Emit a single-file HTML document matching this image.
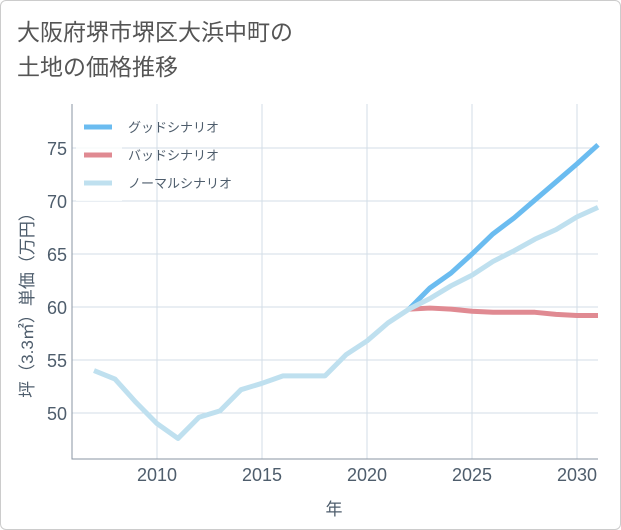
<!DOCTYPE html>
<html><head><meta charset="utf-8"><style>
body{margin:0;background:#fff;}
.wrap{position:relative;width:619px;height:528px;border:1px solid #ccc;border-radius:6px;overflow:hidden;background:#fff;font-family:"Liberation Sans","Noto Sans CJK JP",sans-serif;}
.title{position:absolute;left:16px;top:14px;font-size:23px;line-height:35px;color:#555;}
svg{position:absolute;left:0;top:0;}
</style></head><body>
<div class="wrap">
<div class="title">大阪府堺市堺区大浜中町の<br>土地の価格推移</div>
<svg width="621" height="530" id="chart" font-family="Liberation Sans, Noto Sans CJK JP, sans-serif"></svg>
</div>
<script>
const years=[2007,2008,2009,2010,2011,2012,2013,2014,2015,2016,2017,2018,2019,2020,2021,2022,2023,2024,2025,2026,2027,2028,2029,2030,2031];
const normal=[54.0,53.2,51.0,49.0,47.6,49.6,50.2,52.2,52.8,53.5,53.5,53.5,55.5,56.8,58.5,59.8,60.8,62.0,63.0,64.3,65.3,66.4,67.3,68.5,69.4];
const goodYears=[2022,2023,2024,2025,2026,2027,2028,2029,2030,2031];
const good=[59.8,61.8,63.2,65.0,66.9,68.4,70.1,71.8,73.5,75.3];
const bad=[59.8,59.9,59.8,59.6,59.5,59.5,59.5,59.3,59.2,59.2];
const xTicks=[2010,2015,2020,2025,2030];
const yTicks=[50,55,60,65,70,75];
const legendLabels=["グッドシナリオ","バッドシナリオ","ノーマルシナリオ"];
const NS="http://www.w3.org/2000/svg";
const svg=document.getElementById('chart');
const L=71,R=597,T=103,B=458;
const xs=y=>156+(y-2010)*21;
const ys=v=>412-(v-50)*10.6;
function el(t,a,p){const e=document.createElementNS(NS,t);for(const k in a)e.setAttribute(k,a[k]);(p||svg).appendChild(e);return e;}
const grid=el('g',{});


xTicks.forEach(t=>{el('line',{x1:xs(t),x2:xs(t),y1:T,y2:B,stroke:'#d3dde7','stroke-width':1},grid);
 const tx=el('text',{x:xs(t),y:480,'text-anchor':'middle','font-size':18,fill:'#4e5d6c'});tx.textContent=t;
 });
yTicks.forEach(t=>{el('line',{x1:L,x2:R,y1:ys(t),y2:ys(t),stroke:'#d3dde7','stroke-width':1},grid);
 const tx=el('text',{x:66,y:ys(t)+7,'text-anchor':'end','font-size':18,fill:'#4e5d6c'});tx.textContent=t;
 });
const frame=el('path',{d:`M${L},${T}V${B}H${R}`,fill:'none',stroke:'#8a96a3','stroke-width':1});


function line(xv,yv,color,name){const d=xv.map((x,i)=>(i?'L':'M')+xs(x)+','+ys(yv[i])).join('');
 const p=el('path',{d,fill:'none',stroke:color,'stroke-width':5,'stroke-linejoin':'round','stroke-linecap':'butt'});
 }
line(goodYears,bad,'#e08a92','bad-scenario-line');
line(goodYears,good,'#6bbcf0','good-scenario-line');
line(years,normal,'#bfe0ef','normal-scenario-line');
const lg=el('g',{});


el('rect',{x:75,y:110,width:46,height:90,fill:'#fff','fill-opacity':0.8},lg);
const cols=['#6bbcf0','#e08a92','#bfe0ef'];
legendLabels.forEach((s,i)=>{const y=126+i*28;
 el('line',{x1:83,x2:111,y1:y,y2:y,stroke:cols[i],'stroke-width':5},lg);
 const t=el('text',{x:127,y:y+5,'font-size':13,fill:'#4e5d6c'},lg);t.textContent=s;
 });
const xt=el('text',{x:333,y:514,'text-anchor':'middle','font-size':17,fill:'#4e5d6c'});xt.textContent='年';

const yt=el('text',{x:0,y:0,'text-anchor':'middle','font-size':17,fill:'#4e5d6c',transform:'translate(32,300) rotate(-90)'});yt.textContent='坪（3.3㎡）単価（万円）';

</script>
</body></html>
